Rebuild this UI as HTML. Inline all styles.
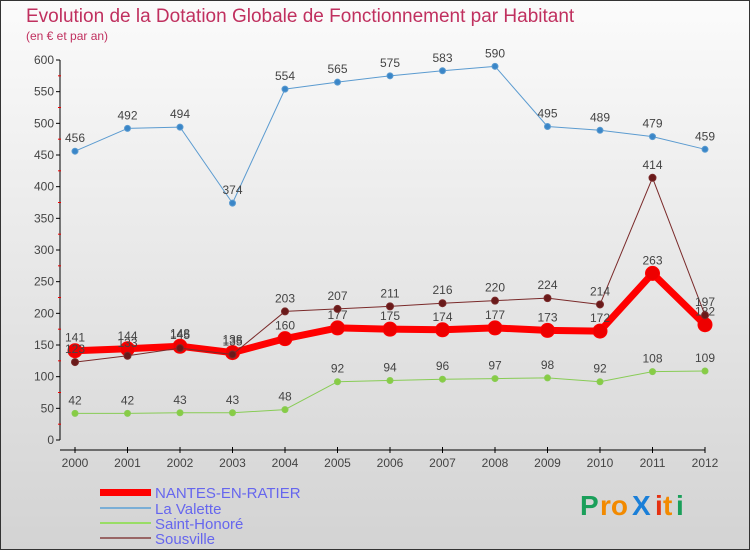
<!DOCTYPE html>
<html><head><meta charset="utf-8">
<style>
body{margin:0;width:750px;height:550px;overflow:hidden;font-family:"Liberation Sans",sans-serif}
#wrap{position:relative;width:748px;height:548px;border:1px solid #333;background:linear-gradient(#fbfbfb,#d3d3d3)}
</style></head><body>
<div id="wrap">
<svg id="chart" width="750" height="550" style="position:absolute;left:-1px;top:-1px">
<text x="26" y="22" font-size="19" fill="#c0305f">Evolution de la Dotation Globale de Fonctionnement par Habitant</text>
<text x="26" y="40" font-size="12" fill="#c0305f">(en € et par an)</text>
<g id="axes"></g><g id="series"></g>
<g>
<rect x="100" y="489" width="51" height="7" fill="#f00"/><text x="155" y="498" font-size="15" fill="#6666ee">NANTES-EN-RATIER</text>
<rect x="100" y="507" width="51" height="2" fill="#7aaed6"/><text x="155" y="514" font-size="15" fill="#6666ee">La Valette</text>
<rect x="100" y="522" width="51" height="2" fill="#99dd66"/><text x="155" y="529" font-size="15" fill="#6666ee">Saint-Honoré</text>
<rect x="100" y="537" width="51" height="2" fill="#996666"/><text x="155" y="544" font-size="15" fill="#6666ee">Sousville</text>
</g>
<g font-size="28" font-weight="bold">
<text x="580" y="515" fill="#1a9f5a">P</text><text x="600" y="515" fill="#f28a00">ro</text><text x="632" y="515" fill="#1a7fd8">X</text><text x="655" y="515" fill="#e53010">i</text><text x="663" y="515" fill="#f28a00">t</text><text x="676" y="515" fill="#1a9f5a">i</text>
</g>
</svg></div>
<script>
const years=["2000","2001","2002","2003","2004","2005","2006","2007","2008","2009","2010","2011","2012"];
const nantes=[141,144,148,138,160,177,175,174,177,173,172,263,182];
const laValette=[456,492,494,374,554,565,575,583,590,495,489,479,459];
const saintHonore=[42,42,43,43,48,92,94,96,97,98,92,108,109];
const sousville=[123,133,145,135,203,207,211,216,220,224,214,414,197];
const yTicks=[0,50,100,150,200,250,300,350,400,450,500,550,600];
const NS="http://www.w3.org/2000/svg";
const xs=i=>75+i*52.5, ys=v=>440-v*(380/600);
function mk(t,a,p){const e=document.createElementNS(NS,t);for(const k in a)e.setAttribute(k,a[k]);p.appendChild(e);return e;}
const ax=document.getElementById('axes');
mk('line',{x1:60,y1:60,x2:60,y2:440,stroke:'#000'},ax);
mk('line',{x1:60,y1:450,x2:705,y2:450,stroke:'#000'},ax);
yTicks.forEach(v=>{const y=ys(v);
 mk('line',{x1:56,y1:y,x2:60,y2:y,stroke:'#000'},ax);
 if(v<600)mk('line',{x1:58,y1:ys(v+25),x2:61,y2:ys(v+25),stroke:'#e00'},ax);
 const t=mk('text',{x:54,y:y+4,'font-size':12,fill:'#444','text-anchor':'end'},ax);t.textContent=v;
 
 });
years.forEach((yr,i)=>{const x=xs(i);
 mk('line',{x1:x,y1:447,x2:x,y2:453,stroke:'#000'},ax);
 const t=mk('text',{x:x,y:467,'font-size':12,fill:'#444','text-anchor':'middle'},ax);t.textContent=yr;
 
 });
const sg=document.getElementById('series');
function draw(vals,color,w,r,dot,name){
 const g=mk('g',{},sg);
 
 
 mk('polyline',{points:vals.map((v,i)=>xs(i)+','+ys(v)).join(' '),fill:'none',stroke:color,'stroke-width':w,'stroke-linejoin':'round'},g);
 vals.forEach((v,i)=>{const c=mk('circle',{cx:xs(i),cy:ys(v),r:r,fill:dot,stroke:color,'stroke-width':1},g);
  
  
  const t=mk('text',{x:xs(i),y:ys(v)-9,'font-size':12,fill:'#444','text-anchor':'middle'},g);t.textContent=v;
  
  });
}
draw(laValette,'#5b9bd0',1,3,'#3a86c8','series-la-valette');
draw(saintHonore,'#88cc55',1,3,'#88cc44','series-saint-honore');
draw(nantes,'#ff0000',7,7,'#ee0000','series-nantes');
draw(sousville,'#7a2a2a',1,3.5,'#6a1a1a','series-sousville');
</script>
</body></html>
